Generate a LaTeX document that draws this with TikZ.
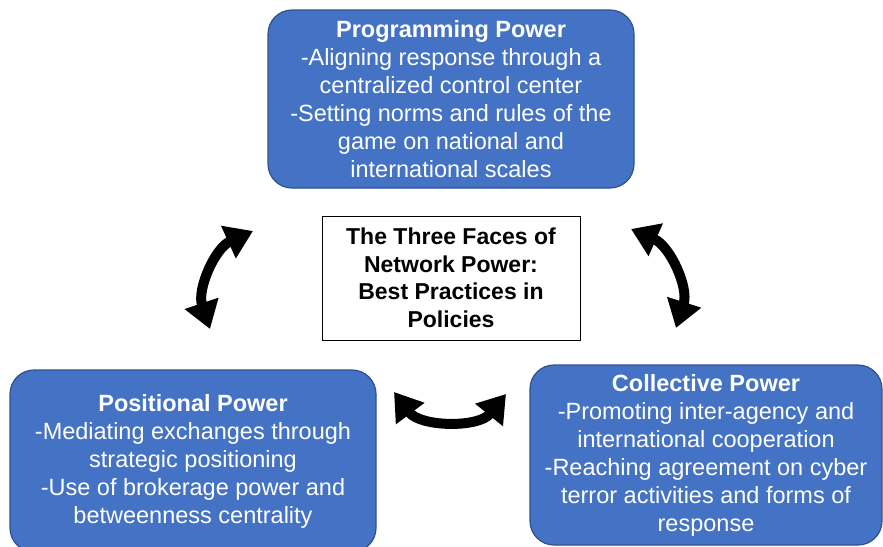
\documentclass[tikz,border=0pt]{standalone}
\usepackage{fontspec}
\setmainfont{Liberation Sans}
\usetikzlibrary{positioning, arrows.meta}
\definecolor{faceblue}{HTML}{4472C4}
\definecolor{faceedge}{HTML}{2F528F}

\begin{document}
\begin{tikzpicture}[x=1pt,y=-1pt]
		\tikzstyle{face}=[draw=faceedge, line width=1.2pt, fill=faceblue, rounded corners=24pt, text=white, align=center, font=\fontsize{23.5}{28}\selectfont, inner sep=0pt]
		\tikzstyle{hub}=[draw=black, line width=1pt, fill=white, align=center, font=\bfseries\fontsize{23}{27.5}\selectfont, minimum width=258pt, minimum height=124pt, inner sep=0pt]
		\tikzstyle{swing}=[line width=10pt, {Triangle[width=34pt,length=27pt]}-{Triangle[width=34pt,length=27pt]}]
		\useasboundingbox (0,0) rectangle (883,546);
		\node[face, minimum width=366pt, minimum height=178pt] (prog) at (451,99) {\textbf{Programming Power}\\-Aligning response through a\\centralized control center\\-Setting norms and rules of the\\game on national and\\international scales};
		\node[face, minimum width=366pt, minimum height=182pt] (posit) at (193,461) {\textbf{Positional Power}\\-Mediating exchanges through\\strategic positioning\\-Use of brokerage power and\\betweenness centrality};
		\node[face, minimum width=352pt, minimum height=180pt] (collect) at (706,455) {\textbf{Collective Power}\\-Promoting inter-agency and\\international cooperation\\-Reaching agreement on cyber\\terror activities and forms of\\response};
		\node[hub] (faces) at (451,278) {The Three Faces of\\Network Power:\\Best Practices in\\Policies};
		% arrow ends
		\coordinate (lt) at (253,231);
		\coordinate (lb) at (210,329);
		\coordinate (rt) at (631,229);
		\coordinate (rb) at (676,328);
		\coordinate (bl) at (394,392);
		\coordinate (br) at (506,394);
		\draw[swing] (lb) to[bend left=42] (lt);
		\draw[swing] (rt) to[bend left=42] (rb);
		\draw[swing] (bl) to[bend right=52] (br);
\end{tikzpicture}
\end{document}
